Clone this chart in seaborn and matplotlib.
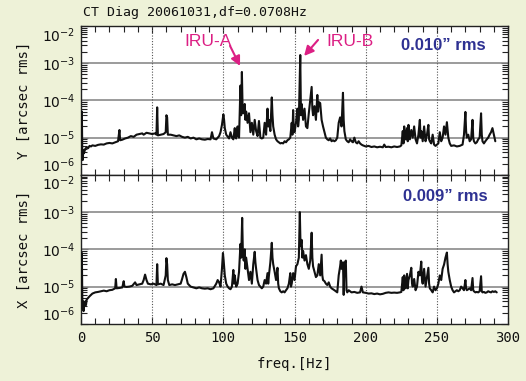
"""
CT Diag 20061031 — espectro de jitter (Y e X) em arcsec rms.
"""

import numpy as np
import pandas as pd
import matplotlib
matplotlib.use("Agg")
import matplotlib.pyplot as plt
from matplotlib.ticker import FixedLocator, LogLocator, NullFormatter, MultipleLocator
import seaborn as sns


# ── Cores ─────────────────────────────────────────────────────────────────────
BG_FIG  = "#eef2d8"
BG_AX   = "#ffffff"
C_LINE  = "#111111"
C_HGRID = "#8a8a8a"
C_VGRID = "#555555"
C_IRU   = "#dc1f84"
C_RMS   = "#2e3192"

# ── Dados (amplitudes em 1e-6 arcsec rms) ─────────────────────────────────────
FREQ_Y = [
    0, 0.3, 0.6, 0.9, 1.2, 1.6, 2, 3, 4, 5, 6, 7, 8, 10, 12, 14, 16, 18, 20, 22, 24, 26, 27, 27.5,
    29, 31, 33, 35, 37, 39, 41, 43, 44, 46, 48, 50, 52, 53, 53.5, 54, 56, 58, 59.5, 60, 60.5, 61,
    63, 65, 67, 69, 71, 73, 75, 77, 79, 81, 83, 85, 87, 89, 91, 92, 93, 95, 97, 98, 99, 100, 100.5, 101,
    102, 104, 105, 106, 107, 108, 108.5, 109, 110, 110.5, 111, 112, 112.5, 113, 113.5, 114, 115, 115.5, 116, 117, 118, 119,
    120, 121, 122, 123, 124, 125, 126, 127, 128, 129, 130, 131, 131.5, 132, 133, 134, 134.5, 135, 136, 137, 138, 139,
    140, 141, 142, 143, 144, 145, 146, 147, 148, 148.5, 149, 149.5, 150, 151, 152, 152.5, 153, 154, 154.5, 155, 156, 157, 158, 159,
    160, 161, 162, 162.5, 163, 164, 165, 166, 166.5, 167, 168, 169, 170, 171, 172, 173, 174, 175, 176, 177, 178, 179,
    180, 181, 182, 183, 184, 184.5, 185, 186, 187, 188, 189, 190, 191, 192, 193, 194, 195, 196, 197, 198,
    200, 202, 204, 206, 208, 210, 212, 213, 214, 216, 218, 220, 222, 224, 225,
    226, 226.5, 227, 228, 229, 229.5, 230, 231, 232, 233, 234, 235, 236, 237, 238, 238.5, 239, 240, 241, 242, 243, 244, 244.5, 245,
    246, 247, 248, 249, 250, 251, 252, 253, 254, 255, 256, 257, 258, 259, 260, 262, 264, 266, 268,
    269, 270, 270.5, 271, 272, 273, 274, 275, 275.5, 276, 277, 278, 279, 280, 281, 281.5, 282, 283, 284, 285, 286, 287, 288, 289, 290, 291,
]
AMP_Y = [
    8, 45, 50, 3.5, 2.5, 4.5, 3.8, 5.0, 5.5, 5.2, 6.0, 5.8, 6.2, 6.0, 6.4, 6.6, 6.5, 7.0, 7.2, 7.0, 7.5, 8.0, 16, 8.5,
    8.8, 9.5, 10, 11, 10.5, 12, 12.5, 13, 12, 13.5, 13, 12.5, 13, 12, 65, 11.5, 12, 12.5, 14, 40, 35, 12,
    12, 11.5, 11, 11.5, 10.5, 10, 10.5, 9.5, 10, 9.0, 9.5, 9.0, 8.8, 9.2, 9.0, 14, 9.5, 9.0, 11, 14, 22, 42, 30, 18,
    12, 9.5, 14, 10, 9, 18, 10, 9.5, 20, 11, 10, 250, 40, 580, 60, 45, 80, 30, 50, 25, 45, 14,
    25, 12, 30, 15, 11, 28, 10, 9.5, 10, 25, 12, 60, 20, 30, 15, 120, 40, 20, 12, 9, 8, 7.5,
    7, 7.2, 7, 8, 7.5, 8.5, 9, 10, 25, 12, 55, 15, 14, 25, 60, 20, 30, 1650, 40, 80, 30, 60, 20, 18,
    45, 100, 230, 60, 40, 70, 30, 140, 50, 90, 85, 30, 20, 14, 10, 9, 8.5, 9.5, 8, 8.5, 8, 8.5,
    10, 25, 35, 20, 160, 30, 15, 9, 8, 7.5, 9, 8, 7.5, 10, 7.5, 7, 8, 7, 6.5, 6.2,
    5.8, 6, 5.6, 5.8, 5.5, 5.7, 5.5, 6.5, 5.6, 5.7, 5.5, 5.8, 5.6, 5.8, 6.2,
    15, 7, 20, 9, 18, 8, 22, 9, 16, 10, 20, 9, 7, 12, 30, 10, 15, 8, 20, 8, 12, 22, 9, 8,
    7, 12, 6.5, 6, 6.5, 7, 14, 8, 10, 20, 12, 26, 10, 7, 6, 6.2, 5.8, 6, 6.5,
    12, 49, 15, 10, 12, 8, 9, 30, 10, 8, 7, 7.5, 9, 10, 45, 12, 8, 7, 8, 9, 10, 12, 14, 18, 12, 8,
]

FREQ_X = [
    0, 0.3, 0.6, 0.9, 1.2, 1.5, 1.8, 2.1, 2.5, 3, 3.5, 4, 5, 6, 7, 8, 10, 12, 14, 16, 18, 20, 22, 24, 24.5, 25,
    27, 29, 30, 30.5, 32, 34, 36, 38, 39, 41, 43, 44, 45, 46, 47, 49, 51, 53, 53.5, 54, 56, 58, 59.5, 60, 60.5, 61,
    62, 64, 66, 68, 70, 71, 72, 73, 74, 75, 77, 79, 81, 83, 85, 87, 89, 91, 93, 95, 96, 97, 98,
    99, 99.7, 100.2, 101, 102, 103, 104, 105, 106, 107, 107.5, 108, 109, 110, 111, 112, 112.5, 113.2, 113.7, 114.3, 115, 115.5, 116, 117,
    118, 119, 120, 121, 122, 122.5, 123, 124, 125, 126, 127, 128, 129, 130, 131, 131.5, 132, 133, 134, 134.5, 135, 136, 137, 138, 138.5, 139,
    140, 141, 142, 143, 144, 145, 146, 147, 147.5, 148, 149, 150, 151, 152, 153, 153.7, 154.2, 155, 155.5, 156, 157, 158, 159, 160, 161,
    162, 162.5, 163, 164, 165, 166, 167, 168, 169, 169.5, 170, 171, 172, 173, 174, 175, 176, 177, 178, 179, 180,
    181, 182, 182.5, 183, 184, 184.5, 185, 186, 186.5, 187, 188, 189, 190, 192, 194, 196, 197, 198,
    200, 202, 204, 206, 208, 210, 212, 214, 216, 218, 220, 222, 224, 225,
    226, 226.5, 227, 228, 229, 229.5, 230, 231, 232, 232.5, 233, 234, 235, 236, 237, 238, 239, 239.5, 240, 241, 242, 243, 244, 244.5, 245,
    246, 247, 248, 249, 250, 251, 252, 253, 254, 255, 256, 257, 257.5, 258, 259, 260, 261, 262, 263, 264, 265, 266, 267, 268, 269,
    270, 270.5, 271, 272, 273, 274, 275, 275.5, 276, 277, 278, 279, 280, 281, 281.5, 282, 283, 284, 285, 286, 287, 288, 289, 290, 291, 292,
]
AMP_X = [
    10, 60, 80, 5, 2.5, 4, 2.2, 3.5, 3.0, 4.0, 3.2, 4.5, 5.0, 5.5, 6.0, 6.5, 7.0, 7.2, 7.5, 7.8, 7.5, 8, 8.2, 9, 16, 9,
    9.2, 9.5, 14, 10, 9.8, 10, 10.5, 13, 11, 11.5, 12, 15, 21, 15, 12, 11.5, 12, 11, 40, 11.5, 12, 11, 20, 58, 40, 15,
    11, 11.5, 11, 11.5, 12, 16, 22, 25, 18, 12, 10, 9.5, 9, 9.5, 9, 8.8, 9, 8.5, 9, 12, 15, 13, 10,
    30, 80, 50, 20, 12, 10, 9, 8.5, 10, 28, 12, 20, 10, 12, 25, 140, 60, 700, 80, 50, 100, 30, 60, 30,
    15, 25, 12, 40, 86, 45, 30, 15, 11, 10, 9, 10, 15, 12, 23, 12, 20, 45, 150, 60, 40, 25, 15, 32, 12, 9,
    7.5, 7, 7.5, 7, 8, 9, 12, 23, 10, 12, 23, 15, 35, 40, 60, 1000, 120, 180, 60, 90, 50, 70, 40, 30, 50,
    280, 60, 35, 25, 18, 20, 40, 20, 72, 20, 15, 14, 12, 11, 13, 10, 9, 8.5, 8, 7.5, 7,
    20, 35, 50, 30, 45, 6, 40, 50, 8, 7, 8, 7.5, 7, 7.2, 6.8, 7, 10, 7,
    6.8, 6.5, 6.6, 6.3, 6.5, 6.2, 6.4, 6.8, 7, 6.8, 6.9, 6.8, 7, 7.2,
    18, 8, 20, 9, 22, 9, 15, 20, 32, 12, 10, 16, 8, 10, 25, 20, 47, 15, 12, 30, 10, 18, 32, 12, 9,
    8, 7, 10, 8, 9, 12, 20, 15, 30, 39, 60, 82, 40, 25, 15, 10, 8, 7, 7.5, 8, 7.5, 8, 10, 9, 8,
    15, 9, 8, 8.5, 9, 8, 17, 8, 7.5, 7, 7.2, 7, 7.5, 19, 7.5, 7, 7.2, 6.8, 7, 7.5, 7.2, 7, 7.5, 7.2, 7.5, 7,
]

Y_TICKS  = [1e-2, 1e-3, 1e-4, 1e-5, 1e-6]
Y_LABELS = [r"$10^{-2}$", r"$10^{-3}$", r"$10^{-4}$", r"$10^{-5}$", r"$10^{-6}$"]
X_TICKS  = [0, 50, 100, 150, 200, 250, 300]

TITLE    = "CT Diag 20061031,df=0.0708Hz"
RMS_Y    = "0.010\u201d rms"
RMS_X    = "0.009\u201d rms"

MONO = ["DejaVu Sans Mono"]
SANS = ["Liberation Sans", "DejaVu Sans"]


def style_ax(ax, ylabel, show_xlabels):
    """Estilo comum dos dois painéis."""
    ax.set_facecolor(BG_AX)
    ax.set_yscale("log")
    ax.set_xlim(0, 300)
    ax.set_ylim(1e-6, 1e-2)

    ax.yaxis.set_major_locator(FixedLocator(Y_TICKS))
    ax.yaxis.set_minor_locator(LogLocator(base=10, subs=np.arange(2, 10)))
    ax.yaxis.set_minor_formatter(NullFormatter())
    labels = ax.set_yticklabels(Y_LABELS, fontsize=10, color="#111111")
    labels[0].set_va("top")
    labels[-1].set_va("bottom")

    ax.xaxis.set_major_locator(FixedLocator(X_TICKS))
    ax.xaxis.set_minor_locator(MultipleLocator(10))
    if show_xlabels:
        ax.set_xticklabels([str(t) for t in X_TICKS], fontsize=10, family=MONO, color="#111111")
    else:
        ax.set_xticklabels([])

    ax.tick_params(which="both", direction="in", top=True, right=True, color="#222222")
    ax.tick_params(which="major", length=5, width=0.8)
    ax.tick_params(which="minor", length=4, width=0.8)
    ax.tick_params(axis="y", pad=4)
    ax.tick_params(axis="x", pad=5)

    ax.grid(False)
    for yv in Y_TICKS[1:-1]:
        ax.axhline(yv, color=C_HGRID, lw=1.2, zorder=1)
    for xv in X_TICKS[1:-1]:
        ax.axvline(xv, color=C_VGRID, lw=0.8, ls=(0, (1, 1.5)), zorder=1)

    for sp in ax.spines.values():
        sp.set_color("#222222")
        sp.set_linewidth(1.0)

    ax.set_ylabel(ylabel, fontsize=10, family=MONO, color="#111111", labelpad=8)
    ax.set_xlabel("")


sns.set_style("ticks")
plt.rcParams["font.family"] = ["DejaVu Sans"]
plt.rcParams["mathtext.fontset"] = "dejavusans"

df_y = pd.DataFrame({"freq": FREQ_Y, "amp": np.array(AMP_Y) * 1e-6})
df_x = pd.DataFrame({"freq": FREQ_X, "amp": np.array(AMP_X) * 1e-6})

fig = plt.figure(figsize=(5.26, 3.81), dpi=100, facecolor=BG_FIG)
ax_top = fig.add_axes([0.154, 0.541, 0.812, 0.391])
ax_bot = fig.add_axes([0.154, 0.150, 0.812, 0.391])

for ax, df in [(ax_top, df_y), (ax_bot, df_x)]:
    sns.lineplot(data=df, x="freq", y="amp", ax=ax, color=C_LINE, lw=1.5,
                 estimator=None, sort=False, zorder=3)

style_ax(ax_top, "Y [arcsec rms]", show_xlabels=False)
style_ax(ax_bot, "X [arcsec rms]", show_xlabels=True)

# ── Textos ────────────────────────────────────────────────────────────────────
fig.text(0.158, 0.968, TITLE, fontsize=9.5, family=MONO, color="#111111", va="center", ha="left")
ax_bot.set_xlabel("freq.[Hz]", fontsize=10, family=MONO, color="#111111", labelpad=9)

arrow = dict(arrowstyle="-|>", color=C_IRU, lw=1.5, mutation_scale=14, shrinkA=0, shrinkB=0)
ax_top.text(88.9, 3.7e-3, "IRU-A", fontsize=12.5, family=SANS, color=C_IRU, ha="center", va="center")
ax_top.annotate("", xy=(111.7, 8.4e-4), xytext=(104.7, 2.9e-3), arrowprops=arrow)
ax_top.text(189, 3.7e-3, "IRU-B", fontsize=12.5, family=SANS, color=C_IRU, ha="center", va="center")
ax_top.annotate("", xy=(156.7, 1.56e-3), xytext=(166.5, 4.2e-3), arrowprops=arrow)

ax_top.text(0.848, 0.866, RMS_Y, transform=ax_top.transAxes, fontsize=12, fontweight="bold",
            family=SANS, color=C_RMS, ha="center", va="center")
ax_bot.text(0.852, 0.852, RMS_X, transform=ax_bot.transAxes, fontsize=12, fontweight="bold",
            family=SANS, color=C_RMS, ha="center", va="center")

fig.savefig("out.png", dpi=100, facecolor=BG_FIG)
